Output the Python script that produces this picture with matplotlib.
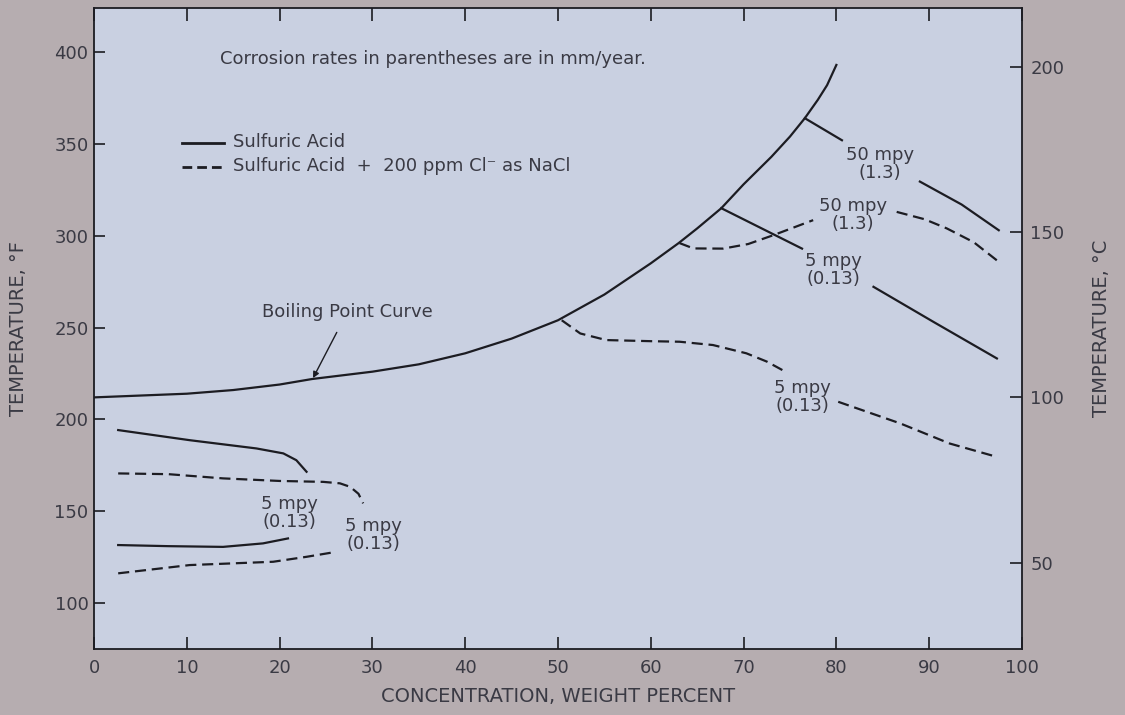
import matplotlib.pyplot as plt

# =========================
# DATA
# =========================

# boiling point curve, concentration (wt %) vs temperature (F)
bp_x = [0, 5, 10, 15, 20, 23.5, 30, 35, 40, 45, 50, 55, 60, 63, 65, 67.6, 70, 73, 75, 76.6, 78, 79, 80]
bp_y = [212, 213, 214, 216, 219, 222, 226, 230, 236, 244, 254, 268, 285, 296, 304, 315, 328, 343, 354, 364, 374, 382, 393]

# sulfuric acid, iso-corrosion lines (solid)
s5_low_x = [2.6, 8, 13.9, 18.2, 20.9]
s5_low_y = [131.6, 131.0, 130.6, 132.5, 135.2]
s5_up_x = [2.6, 10.3, 17.5, 20.4, 21.8, 22.9]
s5_up_y = [194.2, 188.7, 184.2, 181.5, 177.8, 171.5]
s5_hi_a_x = [67.6, 76.3]
s5_hi_a_y = [315, 293]
s5_hi_b_x = [84.0, 90.5, 97.3]
s5_hi_b_y = [272.2, 253, 233.2]
s50_a_x = [76.6, 80.6]
s50_a_y = [364, 352]
s50_b_x = [89.0, 93.5, 97.5]
s50_b_y = [329.5, 317, 303]

# sulfuric acid + 200 ppm Cl- (dashed)
c5_low_x = [2.6, 10.3, 19.3, 22.9, 26.1]
c5_low_y = [116.2, 120.7, 122.5, 125.2, 127.9]
c5_up_x = [2.6, 8, 13.9, 20, 24.7, 26.5, 27.6, 28.5, 29.0]
c5_up_y = [170.6, 170.2, 167.9, 166.5, 166.0, 165.2, 163.3, 159.5, 154.3]
c5_hi_a_x = [50.4, 52.4, 55.2, 60, 63.1, 66.7, 70.3, 72.5, 74.5]
c5_hi_a_y = [254, 246.8, 243.2, 242.6, 242.3, 240.5, 236, 231.5, 226]
c5_hi_b_x = [80.2, 86.9, 92.2, 97.3]
c5_hi_b_y = [209.6, 197.8, 186.9, 179.6]
c50_a_x = [63.1, 64.6, 67.8, 70.5, 73.2, 77.5]
c50_a_y = [296, 293.1, 293, 295.5, 300.3, 308.5]
c50_b_x = [86.5, 89.5, 91.9, 94.8, 97.5]
c50_b_y = [313, 309, 304, 296.5, 285.8]

# labels on the lines: (x, y, text)
rate_labels = [
    (21.1, 149, "5 mpy\n(0.13)"),
    (30.1, 137, "5 mpy\n(0.13)"),
    (84.7, 339.3, "50 mpy\n(1.3)"),
    (81.8, 311.2, "50 mpy\n(1.3)"),
    (79.7, 281.3, "5 mpy\n(0.13)"),
    (76.3, 212.3, "5 mpy\n(0.13)"),
]

x_ticks = [0, 10, 20, 30, 40, 50, 60, 70, 80, 90, 100]
f_ticks = [100, 150, 200, 250, 300, 350, 400]
c_ticks = [50, 100, 150, 200]

# =========================
# STYLE
# =========================

plt.rcParams['font.family'] = ['DejaVu Sans']
outer_bg = '#b6adb0'
face_bg = '#c9d0e1'
ink = '#1c1c22'
txt = '#3a3a44'
fs = 13

fig = plt.figure(figsize=(11.25, 7.15), dpi=100, facecolor=outer_bg)
ax = fig.add_axes([0.0836, 0.0923, 0.8248, 0.8965])
ax.set_facecolor(face_bg)

lw = 1.6
dash = (5, 2.6)

ax.plot(bp_x, bp_y, color=ink, lw=lw)
for xs, ys in [(s5_low_x, s5_low_y), (s5_up_x, s5_up_y), (s5_hi_a_x, s5_hi_a_y),
               (s5_hi_b_x, s5_hi_b_y), (s50_a_x, s50_a_y), (s50_b_x, s50_b_y)]:
    ax.plot(xs, ys, color=ink, lw=lw)
for xs, ys in [(c5_low_x, c5_low_y), (c5_up_x, c5_up_y), (c5_hi_a_x, c5_hi_a_y),
               (c5_hi_b_x, c5_hi_b_y), (c50_a_x, c50_a_y), (c50_b_x, c50_b_y)]:
    ax.plot(xs, ys, color=ink, lw=lw, dashes=dash)

for x, y, s in rate_labels:
    ax.text(x, y, s, ha='center', va='center', fontsize=fs, color=txt,
            linespacing=1.0)

ax.text(13.6, 396, "Corrosion rates in parentheses are in mm/year.",
        fontsize=fs, color=txt, va='center', ha='left')

ax.annotate("Boiling Point Curve", xy=(23.6, 222.5), xytext=(27.3, 258.5),
            ha='center', va='center', fontsize=fs, color=txt,
            arrowprops=dict(arrowstyle='-|>', color=ink, lw=1.0,
                            mutation_scale=9, shrinkA=7, shrinkB=0))

# legend drawn by hand, like the original
ax.plot([9.5, 14.0], [350.5, 350.5], color=ink, lw=2.0)
ax.plot([9.5, 14.0], [337.5, 337.5], color=ink, lw=2.0, dashes=(3.5, 1.8))
ax.text(15.0, 351, "Sulfuric Acid", fontsize=fs, color=txt, va='center')
ax.text(15.0, 338, "Sulfuric Acid  +  200 ppm Cl\u207b as NaCl", fontsize=fs,
        color=txt, va='center')

ax.set_xlim(0, 100)
ax.set_ylim(75, 424)
ax.set_xticks(x_ticks)
ax.set_yticks(f_ticks)
ax.tick_params(direction='in', length=8, width=1.2, colors=ink,
               labelcolor=txt, labelsize=fs, top=True)
ax.tick_params(axis='x', length=9, pad=7.5)
ax.tick_params(axis='y', pad=4)
for sp in ax.spines.values():
    sp.set_color(ink)
    sp.set_linewidth(1.3)

ax.set_xlabel("CONCENTRATION, WEIGHT PERCENT", fontsize=14, color=txt, labelpad=7)
ax.set_ylabel("TEMPERATURE, \u00b0F", fontsize=14, color=txt, labelpad=19)

# celsius scale on the right
ax2 = ax.twinx()
lo, hi = ax.get_ylim()
ax2.set_ylim((lo - 32) * 5 / 9, (hi - 32) * 5 / 9)
ax2.set_yticks(c_ticks)
ax2.tick_params(direction='in', length=9, width=1.2, colors=ink,
                labelcolor=txt, labelsize=fs, pad=6)
ax2.set_ylabel("TEMPERATURE, \u00b0C", fontsize=14, color=txt, labelpad=20)
for sp in ax2.spines.values():
    sp.set_visible(False)

fig.savefig("out.png", dpi=100, facecolor=outer_bg)
